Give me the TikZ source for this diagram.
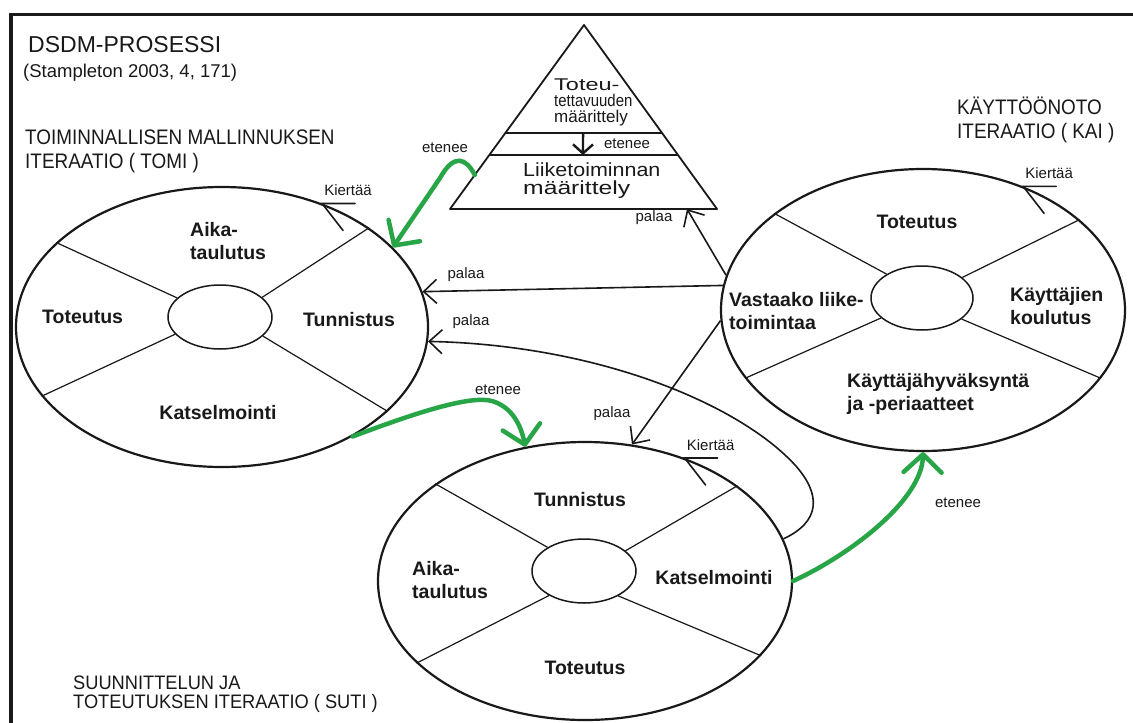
\documentclass[tikz,border=0pt]{standalone}
\usepackage{fontspec}
\setmainfont{Liberation Sans}
\newfontfamily\headfont[FakeStretch=0.9]{Liberation Sans}
\usepackage{graphicx}
\usetikzlibrary{arrows.meta,calc,shapes.geometric}
\definecolor{grn}{RGB}{40,165,70}
\definecolor{ink}{RGB}{25,25,25}
% horizontal squeeze/stretch of a single text line
\newcommand\wid[2]{\scalebox{#1}[1]{#2}}

\begin{document}
\begin{tikzpicture}[x=1pt,y=-1pt,
  ring/.style={ellipse, draw=ink, line width=2.2pt, inner sep=0pt},
  hub/.style={ellipse, draw=ink, line width=1.5pt, inner sep=0pt,
              minimum width=104pt, minimum height=64pt},
  spoke/.style={draw=ink, line width=1.2pt},
  lbl/.style={font=\bfseries\fontsize{19.5}{22.5}\selectfont, text=ink,
              inner sep=0pt, align=left},
  small/.style={font=\fontsize{15}{17}\selectfont, text=ink, inner sep=0pt},
  heading/.style={font=\headfont\fontsize{21}{23.5}\selectfont, text=ink,
              inner sep=0pt, anchor=west, align=left},
  tritext/.style={font=\fontsize{17}{16}\selectfont, text=ink,
              inner sep=0pt, anchor=west, align=left},
  tri/.style={draw=ink, line width=1.8pt, line join=round},
  back/.style={draw=ink, line width=1.6pt,
              -{Straight Barb[length=13pt,width=24pt]}},
  ahead/.style={draw=grn, line width=4.5pt, line cap=round,
              -{Straight Barb[length=18pt,width=38pt,round]}},
  turn/.style={draw=ink, line width=1.6pt, line cap=round},
]
\fill[white] (0,0) rectangle (1133,723);
\useasboundingbox (0,0) rectangle (1133,723);

% frame edges
\draw[ink, line width=3.5pt] (9.5,14.5) -- (1133,14.5);
\draw[ink, line width=3.5pt] (11,13) -- (11,723);

% headings
\node[font=\fontsize{23}{26}\selectfont, text=ink, inner sep=0pt, anchor=west]
  (title) at (28,45) {DSDM-PROSESSI};
\node[font=\fontsize{18.5}{21}\selectfont, text=ink, inner sep=0pt, anchor=west]
  (source) at (23,73) {(Stampleton 2003, 4, 171)};
\node[heading] (tomititle) at (25,151.5)
  {TOIMINNALLISEN MALLINNUKSEN\\ITERAATIO ( TOMI )};
\node[heading] (kaititle) at (957,120)
  {KÄYTTÖÖNOTO\\ITERAATIO ( KAI )};
\node[heading, font=\headfont\fontsize{19.5}{19}\selectfont] (sutititle) at (73,694)
  {\wid{1.04}{SUUNNITTELUN JA}\\\wid{1.04}{TOTEUTUKSEN ITERAATIO ( SUTI )}};

% ---- TOMI wheel ----
\node[ring, minimum width=412pt, minimum height=280pt] (tomi) at (222,327) {};
\node[hub] (tomih) at (220,317) {};
\foreach \i/\o in {156/153, 25/34, 201/201, 336/333}
  \draw[spoke] (tomih.\i) -- (tomi.\o);
\node[lbl, anchor=west] (tomi1) at (190,241) {Aika-\\taulutus};
\node[lbl, anchor=west] (tomi2) at (42,317) {Toteutus};
\node[lbl, anchor=west] (tomi3) at (303,320) {Tunnistus};
\node[lbl] (tomi4) at (218,413) {Katselmointi};

% ---- KAI wheel ----
\node[ring, minimum width=404pt, minimum height=282pt] (kai) at (923,310) {};
\node[hub, minimum width=102pt] (kaih) at (922,298) {};
\foreach \i/\o in {146/147, 27/30, 206/201, 332/339}
  \draw[spoke] (kaih.\i) -- (kai.\o);
\node[lbl] (kai1) at (917,222) {Toteutus};
\node[lbl, anchor=west] (kai2) at (729,311) {Vastaako liike-\\toimintaa};
\node[lbl, anchor=west] (kai3) at (1010,306) {Käyttäjien\\koulutus};
\node[lbl, anchor=west] (kai4) at (847,394) {Käyttäjähyväksyntä\\ja -periaatteet};

% ---- SUTI wheel ----
\node[ring, minimum width=414pt, minimum height=278pt] (suti) at (585,581) {};
\node[hub] (sutih) at (584,571) {};
\foreach \i/\o in {147/147, 26/32, 215/206, 324/337}
  \draw[spoke] (sutih.\i) -- (suti.\o);
\node[lbl] (suti1) at (580,500) {Tunnistus};
\node[lbl, anchor=west] (suti2) at (412,580) {Aika-\\taulutus};
\node[lbl] (suti3) at (714,578) {Katselmointi};
\node[lbl] (suti4) at (585,668) {Toteutus};

% ---- rotation marks ----
\foreach \w in {tomi, kai, suti} {
  \coordinate (\w-k) at (\w.51);
  \draw[turn] ($(\w-k)+(33,0)$) -- (\w-k) -- ++(21,27);
  \node[small] (\w-kl) at ($(\w-k)+(26,-13)$) {Kiertää};
}

% ---- definition triangle ----
\coordinate (apex) at (584,25);
\coordinate (tbl) at (450,209);
\coordinate (tbr) at (717,209);
\coordinate (t1l) at ($(apex)!0.587!(tbl)$);
\coordinate (t1r) at ($(apex)!0.587!(tbr)$);
\coordinate (t2l) at ($(apex)!0.7065!(tbl)$);
\coordinate (t2r) at ($(apex)!0.7065!(tbr)$);
\draw[tri] (apex) -- (tbl) -- (tbr) -- cycle;
\draw[tri] (t1l) -- (t1r);
\draw[tri] (t2l) -- (t2r);
\node[tritext] (feas) at (554,102.5)
  {\wid{1.38}{Toteu-}\\\wid{0.88}{tettavuuden}\\\wid{1.0}{määrittely}};
\node[tritext, font=\fontsize{19}{18}\selectfont] (biz) at (523,181)
  {\wid{1.13}{Liiketoiminnan}\\\wid{1.3}{määrittely}};
\coordinate (da) at ($(t1l)!0.496!(t1r)$);
\coordinate (db) at ($(t2l)!0.496!(t2r)$);
\draw[ink, line width=2.4pt, -{Straight Barb[length=9pt,width=20pt]}] (da) -- (db);
\node[small] (feasgo) at (627,144) {etenee};

% ---- return arrows ----
\coordinate (tbase) at (687,209);
\draw[back] (kai.170) -- (tbase);
\node[small] (ret0) at (654,218) {palaa};
\draw[back] (kai.173) -- (tomi.10);
\node[small] (ret1) at (466,275) {palaa};
\draw[back] (suti.12) .. controls (820,522) and (822,495) .. (795,465)
  .. controls (740,405) and (600,345) .. (tomi.356);
\node[small] (ret2) at (471,322) {palaa};
\draw[back] (kai.183) -- (suti.71);
\node[small] (ret3) at (612,414) {palaa};

% ---- forward arrows ----
\coordinate (g1s) at ($(apex)!0.815!(tbl)$);
\draw[ahead] (g1s) .. controls (466,158) and (454,153) .. (440,178) -- (tomi.25);
\node[small] (go1) at (445,148) {etenee};
\draw[ahead] (tomi.320) .. controls (415,413) and (470,395) .. (492,401)
  .. controls (512,407) and (521,425) .. (suti.114);
\node[small] (go2) at (498,390) {etenee};
\draw[ahead] (suti.0) .. controls (850,555) and (922,500) .. (kai.270);
\node[small] (go3) at (958,503) {etenee};
\end{tikzpicture}
\end{document}
